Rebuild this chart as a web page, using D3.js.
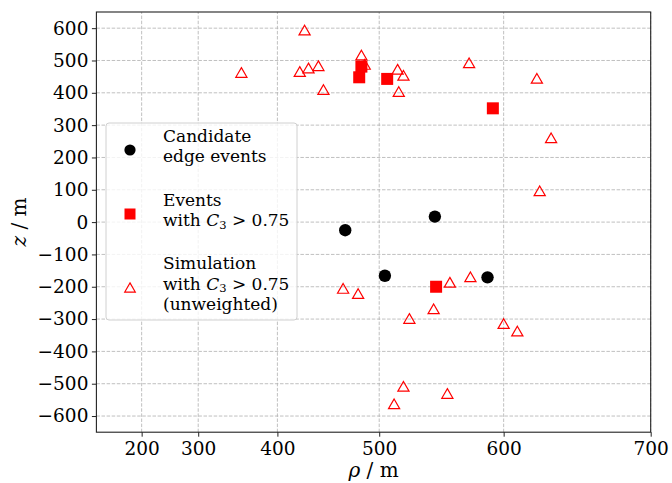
<!DOCTYPE html>
<html>
<head>
    <meta charset="utf-8">
    <title>Edge events</title>
    <script src="https://d3js.org/d3.v7.min.js"></script>
    <style>
        body { margin: 0; background: #fff; }
        text { font-family: "DejaVu Serif", serif; fill: #000; }
    </style>
</head>
<body>
    <div id="chart"></div>

    <script>
        // data (rho in m, z in m)
        const candRho = [469, 547, 505, 588];
        const candZ = [-25, 17, -166, -171];

        const evRho = [484, 482, 507, 592, 548];
        const evZ = [481, 448, 443, 352, -200];

        const simRho = [429, 358, 424, 433, 443, 448, 484, 487, 516, 521, 517, 574, 624, 634, 626,
                        467, 481, 559, 575, 546, 526, 600, 610, 521, 557, 513];
        const simZ = [592, 461, 464, 475, 482, 408, 515, 486, 471, 452, 402, 491, 443, 259, 95,
                      -207, -223, -188, -171, -270, -300, -316, -339, -510, -532, -564];

        const xTicks = [200, 300, 400, 500, 600, 700];
        const yTicks = d3.range(-600, 601, 100);

        const W = 672, H = 483;
        const svg = d3.select("#chart").append("svg")
            .attr("width", W).attr("height", H);

        // x axis is proportional to rho^2
        const x = d3.scalePow().exponent(2).domain([0, 700]).range([96.4, 650.7]);
        const y = d3.scaleLinear().domain([-650, 650]).range([432.2, 12]);

        // grid
        const grid = svg.append("g").attr("stroke", "#b0b0b0").attr("stroke-width", 0.8)
            .attr("stroke-dasharray", "3.5,1.6");
        grid.selectAll(".gx").data(xTicks).enter().append("line")
            .attr("x1", d => x(d)).attr("x2", d => x(d))
            .attr("y1", y(-650)).attr("y2", y(650));
        grid.selectAll(".gy").data(yTicks).enter().append("line")
            .attr("x1", x(0)).attr("x2", x(700))
            .attr("y1", d => y(d)).attr("y2", d => y(d));

        // axes
        const fmt = d => d < 0 ? "\u2212" + Math.abs(d) : String(d);
        const xAxis = svg.append("g").attr("transform", `translate(0,${y(-650)})`)
            .call(d3.axisBottom(x).tickValues(xTicks).tickSize(4.5).tickPadding(5.5).tickFormat(fmt));
        const yAxis = svg.append("g").attr("transform", `translate(${x(0)},0)`)
            .call(d3.axisLeft(y).tickValues(yTicks).tickSize(4.5).tickPadding(3.5).tickFormat(fmt));
        [xAxis, yAxis].forEach(a => {
            a.attr("font-family", null).attr("font-size", null);
            a.select(".domain").remove();
            a.selectAll("line").attr("stroke", "#222").attr("stroke-width", 1);
            a.selectAll("text").style("font-size", "18.5px").attr("fill", "#000");
        });

        // simulation triangles
        const tri = d3.symbol().type(d3.symbolTriangle).size(54);
        svg.append("g").selectAll("path").data(simRho).enter().append("path")
            .attr("d", tri)
            .attr("transform", (d, i) => `translate(${x(d)},${y(simZ[i]) + 1})`)
            .attr("fill", "none").attr("stroke", "#ff0000").attr("stroke-width", 1.2);

        // events with C3 > 0.75
        svg.append("g").selectAll("rect").data(evRho).enter().append("rect")
            .attr("x", d => x(d) - 6).attr("y", (d, i) => y(evZ[i]) - 6)
            .attr("width", 12).attr("height", 12).attr("fill", "#ff0000");

        // candidate edge events
        svg.append("g").selectAll("circle").data(candRho).enter().append("circle")
            .attr("cx", d => x(d)).attr("cy", (d, i) => y(candZ[i]))
            .attr("r", 6.2).attr("fill", "#000");

        // frame
        svg.append("rect").attr("x", x(0)).attr("y", y(650))
            .attr("width", x(700) - x(0)).attr("height", y(-650) - y(650))
            .attr("fill", "none").attr("stroke", "#222").attr("stroke-width", 1.1);

        // axis labels
        const xl = svg.append("text").attr("x", 373.5).attr("y", 477)
            .attr("text-anchor", "middle").style("font-size", "20px");
        xl.append("tspan").style("font-style", "italic").text("\u03c1");
        xl.append("tspan").text(" / m");
        const yl = svg.append("text").attr("transform", "translate(26,222) rotate(-90)")
            .attr("text-anchor", "middle").style("font-size", "20px");
        yl.append("tspan").style("font-style", "italic").text("z");
        yl.append("tspan").text(" / m");

        // legend
        const leg = svg.append("g");
        leg.append("rect").attr("x", 106).attr("y", 123).attr("width", 191).attr("height", 197)
            .attr("rx", 3).attr("fill", "#fff").attr("fill-opacity", 0.8)
            .attr("stroke", "#d0d0d0").attr("stroke-width", 1);

        leg.append("circle").attr("cx", 130).attr("cy", 150).attr("r", 5.6).attr("fill", "#000");
        leg.append("rect").attr("x", 124.5).attr("y", 208.5).attr("width", 11).attr("height", 11).attr("fill", "#ff0000");
        leg.append("path").attr("d", d3.symbol().type(d3.symbolTriangle).size(48))
            .attr("transform", "translate(130,289)")
            .attr("fill", "none").attr("stroke", "#ff0000").attr("stroke-width", 1.2);

        function c3line(g, yy) {
            const t = g.append("text").attr("x", 163).attr("y", yy).style("font-size", "17px");
            t.append("tspan").text("with ");
            t.append("tspan").style("font-style", "italic").text("C");
            t.append("tspan").attr("dy", 2.5).style("font-size", "11.5px").text("3");
            t.append("tspan").attr("dy", -2.5).text(" > 0.75");
        }
        const lines = [["Candidate", 141.5], ["edge events", 161.5], ["Events", 206],
                       ["Simulation", 269], ["(unweighted)", 310]];
        lines.forEach(l => {
            leg.append("text").attr("x", 163).attr("y", l[1]).style("font-size", "17px").text(l[0]);
        });
        c3line(leg, 226);
        c3line(leg, 289.5);
    </script>
</body>
</html>
